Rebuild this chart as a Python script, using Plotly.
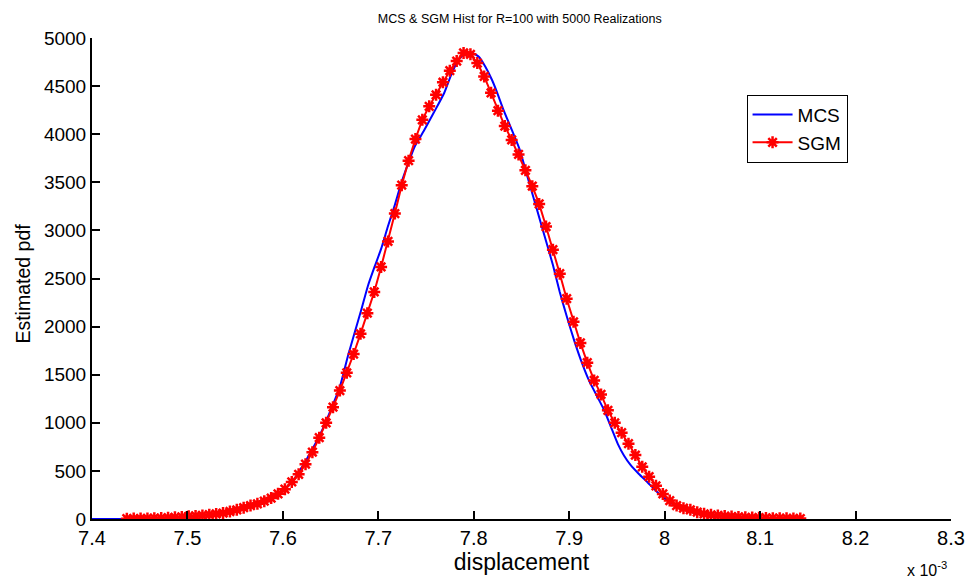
import plotly.graph_objects as go

# SGM (markers + line), x in units of 1e-3
sgm_x = [7.4365, 7.4437, 7.4509, 7.4581, 7.4653, 7.4725, 7.4797, 7.4869, 7.4941, 7.5013,
         7.5085, 7.5157, 7.5229, 7.5301, 7.5373, 7.5445, 7.5517, 7.5589, 7.5661, 7.5733,
         7.5805, 7.5877, 7.5949, 7.6021, 7.6093, 7.6165, 7.6237, 7.6309, 7.6381, 7.6453,
         7.6525, 7.6597, 7.6669, 7.6741, 7.6813, 7.6885, 7.6957, 7.7029, 7.7101, 7.7173,
         7.7245, 7.7317, 7.7389, 7.7461, 7.7533, 7.7605, 7.7677, 7.7749, 7.7821, 7.7893,
         7.7965, 7.8037, 7.8109, 7.8181, 7.8253, 7.8325, 7.8397, 7.8469, 7.8541, 7.8613,
         7.8685, 7.8757, 7.8829, 7.8901, 7.8973, 7.9045, 7.9117, 7.9189, 7.9261, 7.9333,
         7.9405, 7.9477, 7.9549, 7.9621, 7.9693, 7.9765, 7.9837, 7.9909, 7.9981, 8.0053,
         8.0125, 8.0197, 8.0269, 8.0341, 8.0413, 8.0485, 8.0557, 8.0629, 8.0701, 8.0773,
         8.0845, 8.0917, 8.0989, 8.1061, 8.1133, 8.1205, 8.1277, 8.1349, 8.1421]
sgm_y = [3, 4, 5, 6, 8, 10, 13, 17, 22, 28,
         32, 37, 45, 53, 62, 78, 95, 117, 140, 158,
         185, 218, 262, 310, 385, 465, 570, 695, 845, 1000,
         1162, 1335, 1520, 1715, 1925, 2140, 2360, 2620, 2885, 3175,
         3470, 3725, 3950, 4150, 4290, 4410, 4540, 4660, 4760, 4845,
         4830, 4740, 4600, 4430, 4245, 4085, 3940, 3790, 3625, 3460,
         3275, 3040, 2800, 2550, 2290, 2050, 1830, 1625, 1440, 1295,
         1130, 1000, 897, 783, 665, 542, 440, 345, 260, 192,
         140, 113, 95, 71, 54, 43, 37, 30, 25, 21,
         18, 15, 13, 11, 9, 8, 7, 6, 5]

# MCS (line)
mcs_x = [7.40, 7.43, 7.44, 7.46, 7.48, 7.50, 7.52, 7.54, 7.56, 7.58,
         7.60, 7.61, 7.62, 7.63, 7.64, 7.65, 7.66, 7.668, 7.675, 7.682,
         7.689, 7.696, 7.703, 7.710, 7.717, 7.724, 7.731, 7.738, 7.748, 7.758,
         7.769, 7.777, 7.784, 7.791, 7.798, 7.805, 7.812, 7.819, 7.824, 7.831,
         7.8396, 7.848, 7.855, 7.862, 7.869, 7.876, 7.883, 7.890, 7.897, 7.9055,
         7.914, 7.921, 7.930, 7.937, 7.944, 7.951, 7.9575, 7.964, 7.973, 7.982,
         7.9905, 7.999, 8.008, 8.018, 8.032, 8.046, 8.063, 8.081, 8.10, 8.12]
mcs_y = [0, 0, 2, 5, 10, 20, 38, 62, 110, 180,
         300, 390, 540, 710, 900, 1130, 1385, 1690, 1930, 2170,
         2420, 2620, 2810, 3040, 3257, 3490, 3688, 3870, 4040, 4222,
         4428, 4635, 4773, 4842, 4848, 4807, 4704, 4566, 4445, 4256,
         4050, 3843, 3602, 3360, 3120, 2879, 2638, 2362, 2121, 1846,
         1604, 1433, 1260, 1123, 950, 778, 658, 565, 468, 382,
         296, 220, 158, 106, 62, 34, 21, 10, 5, 2]

x_ticks = [7.4, 7.5, 7.6, 7.7, 7.8, 7.9, 8.0, 8.1, 8.2, 8.3]
x_tick_labels = ["7.4", "7.5", "7.6", "7.7", "7.8", "7.9", "8", "8.1", "8.2", "8.3"]
y_ticks = [0, 500, 1000, 1500, 2000, 2500, 3000, 3500, 4000, 4500, 5000]

FONT = "Liberation Sans, Arial, sans-serif"

fig = go.Figure()
fig.add_trace(go.Scatter(x=mcs_x, y=mcs_y, mode="lines", name="MCS",
                         line=dict(color="#0000ff", width=2, shape="spline", smoothing=0.5)))
fig.add_trace(go.Scatter(x=sgm_x, y=sgm_y, mode="lines+markers", name="SGM",
                         line=dict(color="#ff0000", width=2),
                         marker=dict(symbol="asterisk-open", size=10, color="#ff0000",
                                     line=dict(color="#ff0000", width=2.5))))

fig.update_layout(
    width=977, height=583,
    margin=dict(l=92, r=19, t=38, b=61),
    paper_bgcolor="white", plot_bgcolor="white",
    font=dict(family=FONT, size=19, color="black"),
    title=dict(text="MCS & SGM Hist for R=100 with 5000 Realizations",
               font=dict(size=12.5, color="black"), x=0.532, xanchor="center",
               y=0.968, yanchor="middle"),
    showlegend=True,
    legend=dict(x=0.762, y=0.882, xanchor="left", yanchor="top",
                bgcolor="white", bordercolor="black", borderwidth=1,
                font=dict(size=19), tracegroupgap=0, itemwidth=40),
    xaxis=dict(range=[7.4, 8.3], tickvals=x_ticks, ticktext=x_tick_labels,
               showgrid=False, zeroline=False, showline=True, linecolor="black",
               linewidth=2, ticks="inside", ticklen=8, tickwidth=2, tickcolor="black",
               title=dict(text="displacement", standoff=6), tickfont=dict(size=20)),
    yaxis=dict(range=[0, 5000], tickvals=y_ticks,
               showgrid=False, zeroline=False, showline=True, linecolor="black",
               linewidth=2, ticks="inside", ticklen=8, tickwidth=2, tickcolor="black",
               tickfont=dict(size=19)),
)

fig.add_annotation(xref="paper", yref="paper", x=-0.08, y=0.49, xanchor="center", yanchor="middle",
                   text="Estimated pdf", textangle=-90, showarrow=False,
                   font=dict(size=19.5, color="black"))
fig.add_annotation(xref="paper", yref="paper", x=0.998, y=-0.103, xanchor="right", yanchor="middle",
                   text="x 10<sup>-3</sup>", showarrow=False, font=dict(size=16, color="black"))

fig.write_html("out.html")
